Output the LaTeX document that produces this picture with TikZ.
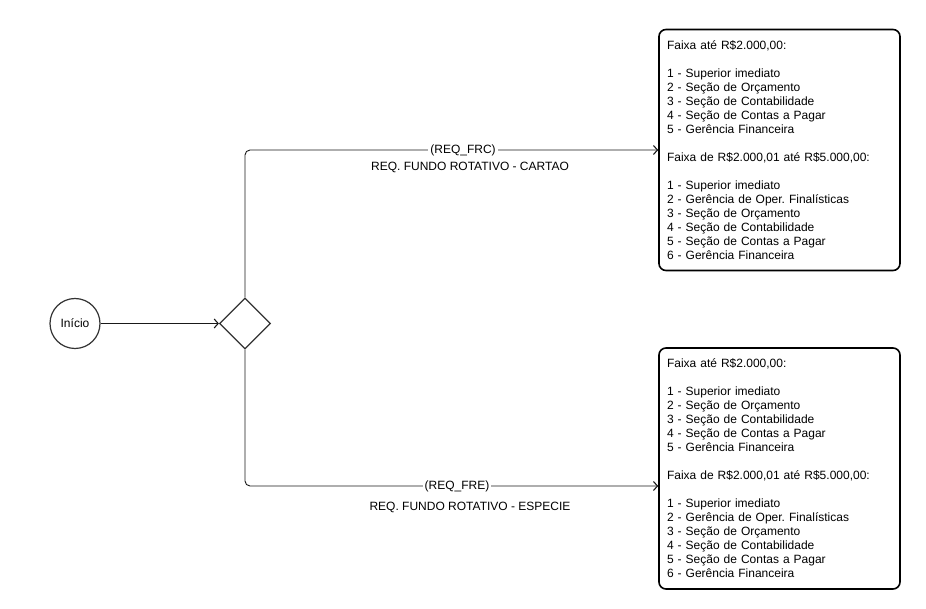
\documentclass[tikz,border=0pt]{standalone}
\usepackage{fontspec}
\setmainfont{Liberation Sans}
\usetikzlibrary{arrows.meta,shapes.geometric}
\frenchspacing

\tikzset{
  inicio/.style={circle, draw=black!80, line width=1.2pt, minimum size=50pt, inner sep=0pt, font=\fontsize{12}{14}\selectfont},
  decisao/.style={diamond, draw=black!80, line width=1.2pt, minimum width=51pt, minimum height=51pt, inner sep=0pt},
  caixa/.style={draw, line width=1.6pt, rounded corners=7pt, minimum width=241pt, minimum height=241pt,
    text width=225pt, align=left, inner xsep=8pt, inner ysep=0pt, font=\fontsize{12}{14}\selectfont},
  fluxo/.style={draw=black!90, line width=0.9pt, rounded corners=5pt, -{Straight Barb[length=4pt,width=9pt,line width=1.1pt]}},
  rotulo/.style={fill=white, inner sep=2pt, font=\fontsize{12}{14}\selectfont}
}

\begin{document}
\begin{tikzpicture}[x=1pt, y=-1pt]
    \useasboundingbox (0,0) rectangle (926,609);
    \node [inicio]  (ini) at (75,323.5)  {Início};
    \node [decisao] (dec) at (245,323.5) {};
    \node [caixa] (frc) at (779.5,150) {Faixa até R\$2.000,00:\\[14pt]
      1 - Superior imediato\\
      2 - Seção de Orçamento\\
      3 - Seção de Contabilidade\\
      4 - Seção de Contas a Pagar\\
      5 - Gerência Financeira\\[14pt]
      Faixa de R\$2.000,01 até R\$5.000,00:\\[14pt]
      1 - Superior imediato\\
      2 - Gerência de Oper. Finalísticas\\
      3 - Seção de Orçamento\\
      4 - Seção de Contabilidade\\
      5 - Seção de Contas a Pagar\\
      6 - Gerência Financeira};
    \node [caixa] (fre) at (779.5,468.5) {Faixa até R\$2.000,00:\\[14pt]
      1 - Superior imediato\\
      2 - Seção de Orçamento\\
      3 - Seção de Contabilidade\\
      4 - Seção de Contas a Pagar\\
      5 - Gerência Financeira\\[14pt]
      Faixa de R\$2.000,01 até R\$5.000,00:\\[14pt]
      1 - Superior imediato\\
      2 - Gerência de Oper. Finalísticas\\
      3 - Seção de Orçamento\\
      4 - Seção de Contabilidade\\
      5 - Seção de Contas a Pagar\\
      6 - Gerência Financeira};

    \draw [fluxo] (ini) -- (dec);
    \draw [fluxo] (dec.north) |- (frc.west);
    \draw [fluxo] (dec.south) |- ([yshift=-17.5pt]fre.west);

    \node [rotulo] (lfrc) at (463,150) {(REQ\_FRC)};
    \node [rotulo, fill=none] (dfrc) at (470,167) {REQ. FUNDO ROTATIVO - CARTAO};
    \node [rotulo] (lfre) at (457,486) {(REQ\_FRE)};
    \node [rotulo, fill=none] (dfre) at (470,507) {REQ. FUNDO ROTATIVO - ESPECIE};
\end{tikzpicture}
\end{document}
